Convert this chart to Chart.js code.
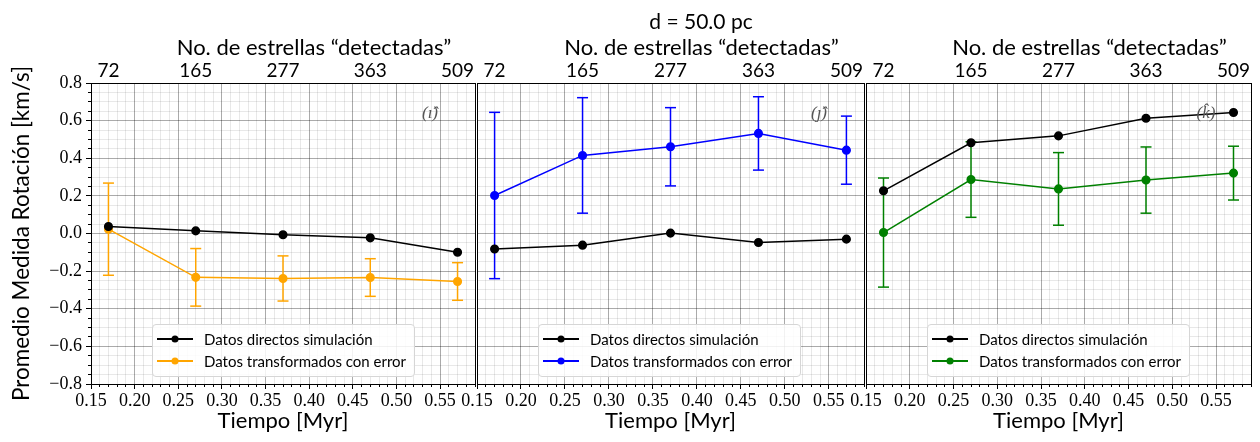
<!DOCTYPE html>
<html>
<head>
<meta charset="utf-8">
<script src="https://cdn.jsdelivr.net/npm/chart.js@4.4.1/dist/chart.umd.min.js"></script>
<style>
    html, body { margin: 0; padding: 0; background: #fff; }
    #wrap { position: relative; width: 1260px; height: 442px; overflow: hidden; }
    #wrap canvas { position: absolute; left: 0; top: 0; }
    .txt { position: absolute; font-family: Lato, sans-serif; color: #000; white-space: nowrap; transform: translate(-50%, -50%); }
    .tag { position: absolute; font-family: "Liberation Serif", serif; font-style: italic; color: #555; font-size: 17px; transform: translate(-50%, -50%); }
    .leg { position: absolute; width: 263px; height: 53px; border: 1px solid #d6d6d6; border-radius: 4px; background: rgba(255, 255, 255, 0.85); box-sizing: border-box; padding-top: 3px; font-family: Lato, sans-serif; font-size: 15px; }
    .row { display: flex; align-items: center; height: 22px; }
    .sw { position: relative; width: 36px; height: 1.6px; margin: 0 11px 0 4px; }
    .sw i { position: absolute; left: 50%; top: 50%; width: 7px; height: 7px; border-radius: 50%; transform: translate(-50%, -50%); }
</style>
</head>
<body>
<div id="wrap">
    <canvas id="c1" width="1260" height="442"></canvas>
    <canvas id="c2" width="1260" height="442"></canvas>
    <canvas id="c3" width="1260" height="442"></canvas>
</div>
<script>
// Datos
const tiempo = [0.17, 0.27, 0.37, 0.47, 0.57];
const estrellas = ['72', '165', '277', '363', '509'];
const xTicks = [0.15, 0.20, 0.25, 0.30, 0.35, 0.40, 0.45, 0.50, 0.55];
const yTicks = [-0.8, -0.6, -0.4, -0.2, 0.0, 0.2, 0.4, 0.6, 0.8];

const directosI = [0.037, 0.014, -0.007, -0.023, -0.100];
const transfI = [0.023, -0.233, -0.239, -0.234, -0.255];
const errorI = [0.245, 0.153, 0.120, 0.100, 0.100];

const directosJ = [-0.082, -0.062, 0.002, -0.048, -0.030];
const transfJ = [0.202, 0.415, 0.461, 0.532, 0.443];
const errorJ = [0.442, 0.307, 0.208, 0.195, 0.181];

const directosK = [0.227, 0.482, 0.519, 0.613, 0.643];
const transfK = [0.005, 0.287, 0.237, 0.284, 0.321];
const errorK = [0.290, 0.201, 0.193, 0.176, 0.143];

const nombres = ['Datos directos simulación', 'Datos transformados con error'];
const titulo = 'd = 50.0 pc';
const tituloArriba = 'No. de estrellas “detectadas”';

const paneles = [
    { id: 'c1', left: 91, right: 475, color: '#ffa500', dir: directosI, tr: transfI, err: errorI, tag: '(ı̂)', conEtiquetas: true },
    { id: 'c2', left: 477, right: 864, color: '#0000ff', dir: directosJ, tr: transfJ, err: errorJ, tag: '(ȷ̂)', conEtiquetas: false },
    { id: 'c3', left: 866, right: 1251, color: '#008000', dir: directosK, tr: transfK, err: errorK, tag: '(k̂)', conEtiquetas: false }
];

const TOP = 83, BOTTOM = 384, W = 1260, H = 442;
const mayor = 'rgba(0,0,0,0.27)';
const menor = 'rgba(0,0,0,0.09)';

function puntos(vals) {
    return tiempo.map((t, i) => ({ x: t, y: vals[i] }));
}

function crearPanel(p) {
    const datasets = [
        {
            label: nombres[0], data: puntos(p.dir),
            borderColor: '#000', backgroundColor: '#000', borderWidth: 1.5,
            pointRadius: 3.8, pointHoverRadius: 3.8
        },
        {
            label: nombres[1], data: puntos(p.tr),
            borderColor: p.color, backgroundColor: p.color, borderWidth: 1.5,
            pointRadius: 3.8, pointHoverRadius: 3.8
        }
    ];
    // barras de error: un segmento vertical con topes por punto
    tiempo.forEach((t, i) => {
        datasets.push({
            label: 'error', data: [{ x: t, y: p.tr[i] - p.err[i] }, { x: t, y: p.tr[i] + p.err[i] }],
            borderColor: p.color, borderWidth: 1.5,
            pointStyle: 'line', pointRadius: 5.5, pointHoverRadius: 5.5,
            pointBorderColor: p.color, pointBorderWidth: 1.5
        });
    });

    new Chart(document.getElementById(p.id), {
        type: 'line',
        data: { datasets: datasets },
        options: {
            responsive: false,
            animation: false,
            events: [],
            layout: { padding: { left: p.conEtiquetas ? 0 : p.left, right: W - p.right, top: 0, bottom: 0 } },
            scales: {
                x: {
                    type: 'linear', position: 'bottom', min: 0.15, max: 0.59, weight: 0,
                    afterBuildTicks: s => { s.ticks = xTicks.map(v => ({ value: v })); },
                    afterFit: s => { s.height = H - BOTTOM; },
                    ticks: {
                        autoSkip: false, maxRotation: 0, padding: 1, color: '#000',
                        font: { family: 'Liberation Serif', size: 18 },
                        callback: v => v.toFixed(2)
                    },
                    grid: { color: mayor, tickColor: '#000', tickLength: 5 },
                    border: { color: '#000', width: 1 },
                    title: {
                        display: true, text: 'Tiempo [Myr]', color: '#000',
                        font: { family: 'Lato', size: 22 }, padding: { top: 0, bottom: 8 }
                    }
                },
                xMenor: {
                    type: 'linear', position: 'bottom', min: 0.15, max: 0.59, weight: -1,
                    afterFit: s => { s.height = 0; },
                    ticks: { display: false, stepSize: 0.01, maxTicksLimit: 100 },
                    grid: { color: menor, tickColor: '#000', tickLength: 3 },
                    border: { display: false }
                },
                xArriba: {
                    type: 'linear', position: 'top', min: 0.15, max: 0.59,
                    afterBuildTicks: s => { s.ticks = tiempo.map(v => ({ value: v })); },
                    afterFit: s => { s.height = TOP; },
                    ticks: {
                        autoSkip: false, maxRotation: 0, padding: 1, color: '#000',
                        font: { family: 'Lato', size: 19 },
                        callback: (v, i) => estrellas[i]
                    },
                    grid: { display: false, drawTicks: false },
                    border: { color: '#000', width: 1 }
                },
                y: {
                    type: 'linear', position: 'left', min: -0.8, max: 0.8, weight: 0,
                    afterBuildTicks: s => { s.ticks = yTicks.map(v => ({ value: v })); },
                    afterFit: s => { s.width = p.conEtiquetas ? p.left : 0; },
                    ticks: {
                        display: p.conEtiquetas, padding: 4, color: '#000',
                        font: { family: 'Liberation Serif', size: 18 },
                        callback: v => (v < -1e-9 ? '\u2212' : '') + Math.abs(v).toFixed(1)
                    },
                    grid: { color: mayor, tickColor: '#000', tickLength: 5, drawTicks: p.conEtiquetas },
                    border: { color: '#000', width: 1 },
                    title: {
                        display: p.conEtiquetas, text: 'Promedio Medida Rotación [km/s]', color: '#000',
                        font: { family: 'Lato', size: 22.5 }, padding: { top: 8, bottom: 0 }
                    }
                },
                yMenor: {
                    type: 'linear', position: 'left', min: -0.8, max: 0.8, weight: -1,
                    afterFit: s => { s.width = 0; },
                    ticks: { display: false, stepSize: 0.05, maxTicksLimit: 100 },
                    grid: { color: menor, tickColor: '#000', tickLength: 3, drawTicks: p.conEtiquetas },
                    border: { display: false }
                },
                yDerecha: {
                    type: 'linear', position: 'right', min: -0.8, max: 0.8,
                    afterFit: s => { s.width = 0; },
                    ticks: { display: false },
                    grid: { display: false },
                    border: { color: '#000', width: 1 }
                }
            },
            plugins: {
                legend: { display: false },
                tooltip: { enabled: false },
                title: { display: false }
            }
        }
    });

    // textos en HTML: título superior, etiqueta del panel y leyenda
    const wrap = document.getElementById('wrap');
    const centro = (p.left + p.right) / 2;

    const t = document.createElement('div');
    t.className = 'txt';
    t.style.left = (centro + 31) + 'px';
    t.style.top = '46px';
    t.style.fontSize = '22px';
    t.textContent = tituloArriba;
    wrap.appendChild(t);

    const tag = document.createElement('div');
    tag.className = 'tag';
    tag.style.left = (p.right - 45) + 'px';
    tag.style.top = '113px';
    tag.textContent = p.tag;
    wrap.appendChild(tag);

    const leg = document.createElement('div');
    leg.className = 'leg';
    leg.style.left = (p.left + 61) + 'px';
    leg.style.top = '324px';
    [['#000', nombres[0]], [p.color, nombres[1]]].forEach(([c, nombre]) => {
        const row = document.createElement('div');
        row.className = 'row';
        row.innerHTML = '<span class="sw" style="background:' + c + '"><i style="background:' + c + '"></i></span><span>' + nombre + '</span>';
        leg.appendChild(row);
    });
    wrap.appendChild(leg);
}

paneles.forEach(crearPanel);

const sup = document.createElement('div');
sup.className = 'txt';
sup.style.left = '701px';
sup.style.top = '20px';
sup.style.fontSize = '21px';
sup.textContent = titulo;
document.getElementById('wrap').appendChild(sup);
</script>
</body>
</html>
